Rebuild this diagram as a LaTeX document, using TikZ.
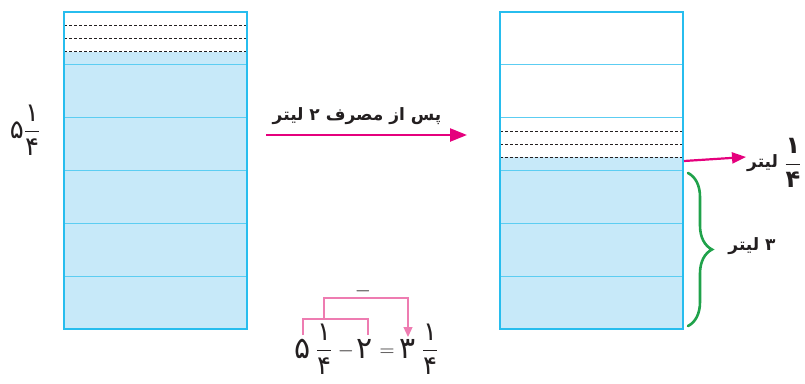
\documentclass[tikz,border=0pt]{standalone}
\usepackage{amsmath}
\usepackage{fontspec}
\usepackage{tikz}
\usetikzlibrary{positioning, arrows.meta, calc, decorations.pathreplacing}
\TeXXeTstate=1
\newfontfamily\arabicfont[Script=Arabic]{DejaVu Sans}
\definecolor{tankblue}{HTML}{27BDEE}
\definecolor{water}{HTML}{C7E9F9}
\definecolor{levelline}{HTML}{5CCDF2}
\definecolor{magenta}{HTML}{E5007D}
\definecolor{eqpink}{HTML}{EE7CB1}
\definecolor{bracegreen}{HTML}{20A24B}
\definecolor{ink}{HTML}{231F20}
\newcommand{\kasr}[2]{$\dfrac{\text{#1}}{\text{#2}}$}
\tikzset{
  tank/.style      = {draw=tankblue, line width=2.2pt},
  level/.style     = {draw=levelline, line width=0.9pt},
  quarter/.style   = {draw=ink, dash pattern=on 3pt off 2pt, line width=0.8pt},
  pour/.style      = {-{Triangle[length=17pt,width=13pt]}, draw=magenta, line width=2.4pt},
  spill/.style     = {-{Triangle[length=14pt,width=11pt]}, draw=magenta, line width=2.2pt},
  brace3/.style    = {decorate, decoration={brace, amplitude=24pt}, draw=bracegreen,
                      line width=2.6pt, line cap=round},
  eqbrk/.style     = {draw=eqpink, line width=1.3pt},
  falbl/.style     = {font=\arabicfont\bfseries\fontsize{17}{20}\selectfont, text=ink,
                      inner sep=1pt},
  eqbig/.style     = {font=\arabicfont\fontsize{30}{32}\selectfont, text=ink,
                      inner sep=0pt, anchor=base},
  eqfrac/.style    = {font=\arabicfont\fontsize{26}{28}\selectfont, text=ink,
                      inner sep=0pt, anchor=base},
  eqsmall/.style   = {font=\arabicfont\fontsize{22}{24}\selectfont, text=ink,
                      inner sep=0pt, anchor=base},
}

\begin{document}
\begin{tikzpicture}[x=1pt, y=-1pt]
  \useasboundingbox (0,0) rectangle (805,383);

  % left tank: 5 1/4 litres
  \fill[water] (64,51.6) rectangle (247,329);
  \foreach \k in {1,...,5} {\draw[level] (64,{329-52.83*\k}) -- (247,{329-52.83*\k});}
  \foreach \k in {1,2,3} {\draw[quarter] (64,{12+13.2*\k}) -- (247,{12+13.2*\k});}
  \draw[tank] (64,12) rectangle (247,329);
  \node[falbl, font=\arabicfont\fontsize{26}{28}\selectfont, inner sep=0pt] (startamt) at (25,130) {۵\kasr{۱}{۴}};

  % right tank: 3 1/4 litres
  \fill[water] (500,157.3) rectangle (683,329);
  \foreach \k in {1,...,5} {\draw[level] (500,{329-52.83*\k}) -- (683,{329-52.83*\k});}
  \foreach \k in {1,2,3} {\draw[quarter] (500,{117.7+13.2*\k}) -- (683,{117.7+13.2*\k});}
  \draw[tank] (500,12) rectangle (683,329);

  % pouring arrow
  \node[falbl] (pourtxt) at (357,116) {\beginR پس از مصرف ۲ لیتر\endR};
  \coordinate (pourA) at (266,135);
  \coordinate (pourB) at (467,135);
  \draw[pour] (pourA) -- (pourB);

  % quarter litre label
  \coordinate (spillA) at (684,161);
  \node[falbl, anchor=west] (quarterlbl) at (746,163) {\beginR لیتر\endR};
  \node[falbl, font=\arabicfont\bfseries\fontsize{24}{26}\selectfont, inner sep=0pt,
        right=5pt of quarterlbl] (quarterfr) {\kasr{۱}{۴}};
  \draw[spill] (spillA) -- ([yshift=6pt]quarterlbl.west);

  % three litres brace
  \coordinate (brTop) at (688,173);
  \coordinate (brBot) at (688,326);
  \draw[brace3] (brTop) -- (brBot);
  \node[falbl] (threelbl) at (752,246) {\beginR ۳ لیتر\endR};

  % equation
  \node[eqbig] (e5)  at (303,358) {۵};
  \node[eqfrac] (ef1) at (324,357) {\kasr{۱}{۴}};
  \node[eqsmall] (emin) at (346,356) {$-$};
  \node[eqbig] (e2)  at (365,358) {۲};
  \node[eqsmall] (eeq) at (387,356) {$=$};
  \node[eqbig] (e3)  at (408,358) {۳};
  \node[eqfrac] (ef2) at (430,357) {\kasr{۱}{۴}};
  \coordinate (e2top) at ([xshift=3pt]e2.center);
  \coordinate (lvlA) at (0,335);
  \coordinate (lvlB) at (0,319);
  \coordinate (lvlC) at (0,298);
  \coordinate (lvlD) at (0,337);
  \draw[eqbrk] (e5 |- lvlA) -- (e5 |- lvlB) -| (e2top |- lvlA);
  \draw[eqbrk, -{Triangle[length=10pt,width=9pt]}] (ef1 |- lvlB) -- (ef1 |- lvlC) -| (e3 |- lvlD);
  \node[eqsmall, anchor=center] (brkmin) at (363,291) {$-$};
\end{tikzpicture}
\end{document}
